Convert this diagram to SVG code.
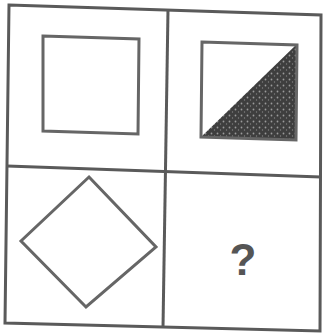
<svg xmlns="http://www.w3.org/2000/svg" width="323" height="335" viewBox="0 0 323 335">
<style>
.ln{fill:none;stroke:#5a5a5a;stroke-width:3;stroke-linejoin:miter}
.shp{fill:none;stroke:#666;stroke-width:3;stroke-linejoin:miter}
.q{font-family:"Liberation Sans",Arial,sans-serif;font-weight:bold;font-size:44px;fill:#555}
</style>
<defs>
<pattern id="speck" width="6" height="6" patternUnits="userSpaceOnUse">
<rect width="6" height="6" fill="#3e3e3e"/>
<circle cx="1.5" cy="1.5" r="0.9" fill="#9a9a9a"/>
<circle cx="4.5" cy="4" r="0.7" fill="#808080"/>
</pattern>
</defs>
<rect width="323" height="335" fill="#fff"/>
<g id="grid">
<path class="ln" d="M9,5 L321,15 L320,331 L5,323 Z"/>
<path class="ln" d="M168,10 L163,327"/>
<path class="ln" d="M7,166 L321,177"/>
</g>
<g id="cell1">
<path class="shp" d="M43,36 L139,39 L138,134 L43,131 Z"/>
</g>
<g id="cell2">
<path d="M296,45 L296,140 L201,137 Z" fill="url(#speck)"/>
<path class="shp" d="M202,42 L297,45 L296,140 L201,137 Z"/>
</g>
<g id="cell3">
<path class="shp" d="M89,177 L156,247 L86,307 L21,241 Z"/>
</g>
<g id="cell4">
<text class="q" x="243" y="275" text-anchor="middle">?</text>
</g>
</svg>
